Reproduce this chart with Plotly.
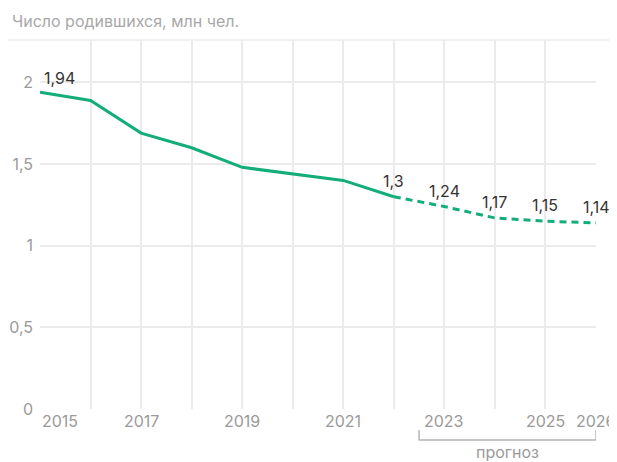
import plotly.graph_objects as go

years_actual = [2015, 2016, 2017, 2018, 2019, 2020, 2021, 2022]
births_actual = [1.94, 1.89, 1.69, 1.60, 1.48, 1.44, 1.40, 1.30]
years_forecast = [2022, 2023, 2024, 2025, 2026]
births_forecast = [1.30, 1.24, 1.17, 1.15, 1.14]
label_years = [2015, 2022, 2023, 2024, 2025, 2026]
label_values = [1.94, 1.3, 1.24, 1.17, 1.15, 1.14]
label_texts = ["1,94", "1,3", "1,24", "1,17", "1,15", "1,14"]
xtick_years = [2015, 2017, 2019, 2021, 2023, 2025, 2026]
ytick_vals = [0, 0.5, 1, 1.5, 2]
ytick_text = ["0", "0,5", "1", "1,5", "2"]
title_text = "Число родившихся, млн чел."
forecast_text = "прогноз"

GREEN = "#13ad78"
GRID = "#ebebeb"
GREY = "#9a9a9a"
FONT = "Inter, Roboto, Arial, sans-serif"

fig = go.Figure()
fig.add_trace(go.Scatter(x=years_actual, y=births_actual, mode="lines",
                         line=dict(color=GREEN, width=3), hoverinfo="skip"))
fig.add_trace(go.Scatter(x=years_forecast, y=births_forecast, mode="lines",
                         line=dict(color=GREEN, width=3, dash="7px,5px"), hoverinfo="skip"))

for yr, v, t in zip(label_years, label_values, label_texts):
    first = yr == years_actual[0]
    fig.add_annotation(x=yr, y=v, text=t, showarrow=False,
                       xanchor="left" if first else "center",
                       yanchor="middle", xshift=2 if first else 0,
                       yshift=14 if first else 16,
                       font=dict(family=FONT, size=16, color="#333333"))

for yr in xtick_years:
    anchor = "left" if yr == xtick_years[0] else "center"
    fig.add_annotation(x=yr, y=0, yref="y", text=str(yr), showarrow=False,
                       xanchor=anchor, yanchor="middle", yshift=-12, xshift=0,
                       font=dict(family=FONT, size=16, color=GREY))

# top separator line
fig.add_shape(type="line", xref="paper", yref="paper", x0=-0.0576, x1=1.04, y0=1, y1=1,
              line=dict(color=GRID, width=1.5))

# forecast bracket
fig.add_shape(type="path", xref="x", yref="paper",
              path="M 2022.5,-0.057 L 2022.5,-0.084 L 2026,-0.084 L 2026,-0.057",
              line=dict(color="#b5b5b5", width=1.5))
fig.add_annotation(x=(2022.5 + 2026) / 2, xref="x", y=-0.117, yref="paper", text=forecast_text,
                   showarrow=False, yanchor="middle", font=dict(family=FONT, size=16, color=GREY))

fig.add_annotation(x=-0.054, xref="paper", y=1.052, yref="paper", text=title_text, showarrow=False,
                   xanchor="left", yanchor="middle", font=dict(family=FONT, size=16, color="#a8a8a8"))

# page body has an 8px margin, so the figure is sized/offset to compensate
fig.update_layout(
    width=609, height=454,
    margin=dict(l=32, r=21, t=32, b=53, autoexpand=False),
    paper_bgcolor="white", plot_bgcolor="white",
    showlegend=False,
    separators=", ",
    xaxis=dict(range=[2015, 2026], tickvals=list(range(2015, 2027)), showticklabels=False,
               showgrid=True, gridcolor=GRID, gridwidth=1.5, zeroline=False, showline=False,
               fixedrange=True, automargin=False),
    yaxis=dict(range=[0, 2.26], tickvals=ytick_vals, ticktext=ytick_text, showgrid=True,
               gridcolor=GRID, gridwidth=1.5, zeroline=False, showline=False, ticklabelstandoff=6,
               tickfont=dict(family=FONT, size=16, color=GREY), fixedrange=True, automargin=False),
)

fig.write_html("out.html")
